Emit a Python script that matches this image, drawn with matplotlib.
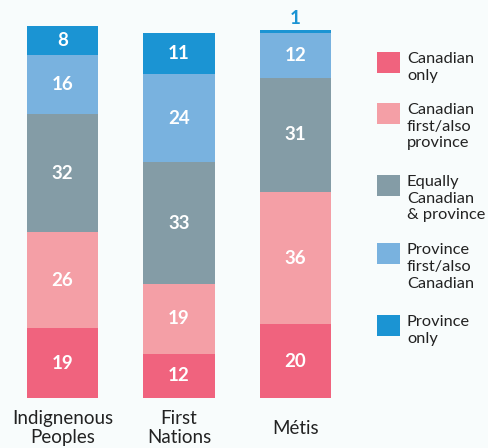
import matplotlib

matplotlib.use("Agg")

import matplotlib.pyplot as plt
from matplotlib.patches import Rectangle

categories = ["Indignenous\nPeoples", "First\nNations", "Métis"]
series_names = [
    "Canadian\nonly",
    "Canadian\nfirst/also\nprovince",
    "Equally\nCanadian\n& province",
    "Province\nfirst/also\nCanadian",
    "Province\nonly",
]
values = {
    "Canadian only": [19, 12, 20],
    "Canadian first/also province": [26, 19, 36],
    "Equally Canadian & province": [32, 33, 31],
    "Province first/also Canadian": [16, 24, 12],
    "Province only": [8, 11, 1],
}
colors = ["#f0637e", "#f49fa6", "#849ca6", "#79b2df", "#1b94d3"]
bg = "#f8fcfc"

W, H = 488, 448
fig = plt.figure(figsize=(W / 100, H / 100), dpi=100, facecolor=bg)
ax = fig.add_axes([4.25 / W, 50 / H, 349.5 / W, 372 / H])
ax.set_facecolor(bg)
ax.set_xlim(-0.5, 2.5)
ax.set_ylim(0, 101)
ax.axis("off")

font = "Lato"
x = range(len(categories))
bottoms = [0, 0, 0]
for (name, vals), color in zip(values.items(), colors):
    ax.bar(x, vals, bottom=bottoms, width=0.61, color=color, linewidth=0)
    for i, v in enumerate(vals):
        if v >= 5:
            ax.text(i, bottoms[i] + v / 2, str(v), ha="center", va="center",
                    color="white", fontsize=13.5, fontweight="bold", family=font)
        else:
            ax.annotate(str(v), (i, bottoms[i] + v), xytext=(0, 2),
                        textcoords="offset points", ha="center", va="bottom",
                        color=color, fontsize=13.5, fontweight="bold", family=font)
    bottoms = [b + v for b, v in zip(bottoms, vals)]

for i, cat in enumerate(categories):
    ax.annotate(cat, (i, 0), xytext=(0, -30), textcoords="offset pixels",
                ha="center", va="center", fontsize=13.5, family=font,
                color="#222222", linespacing=1.1, annotation_clip=False)

# legend drawn in figure pixels
tops = [52, 103, 175, 243, 315]
for top, name, color in zip(tops, series_names, colors):
    fig.patches.append(Rectangle((377 / W, 1 - (top + 21) / H), 23 / W, 21 / H,
                                 transform=fig.transFigure, color=color, linewidth=0))
    fig.text(407 / W, 1 - top / H, name, ha="left", va="top",
             fontsize=11.8, family=font, color="#222222", linespacing=1.25)

fig.savefig("out.png", dpi=100, facecolor=bg)
